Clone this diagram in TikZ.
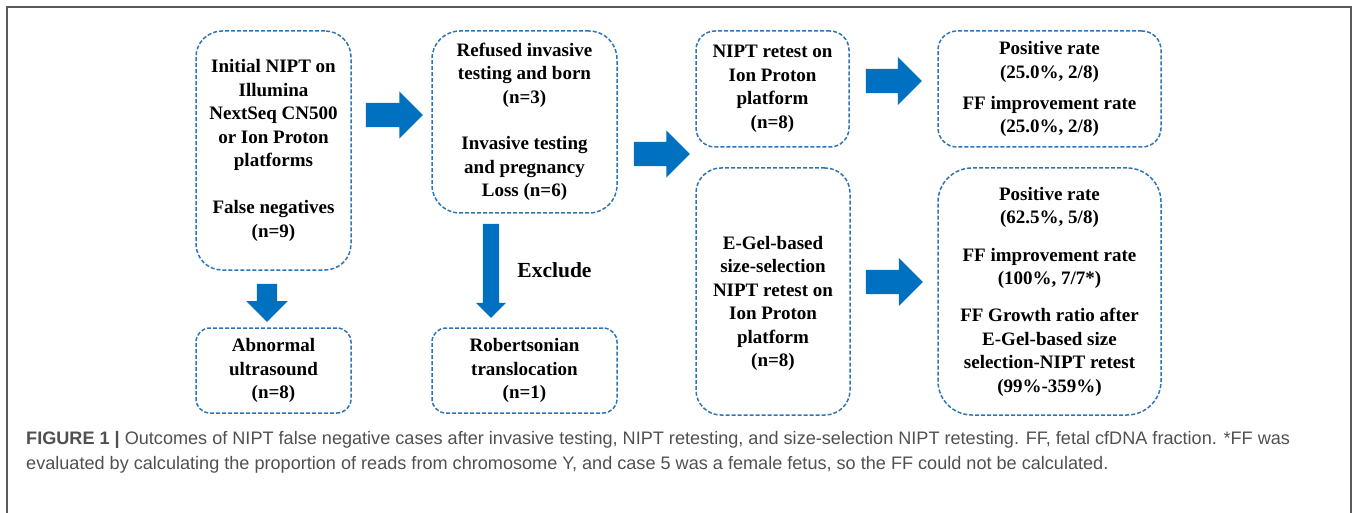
\documentclass[tikz,border=0pt]{standalone}
\usepackage{fontspec}
\setmainfont{Liberation Serif}
\newfontfamily\capfont{Liberation Sans}
\usetikzlibrary{calc,shapes.arrows}

\definecolor{boxblue}{RGB}{46,117,182}
\definecolor{arrowblue}{RGB}{0,112,192}
\definecolor{capgray}{RGB}{80,80,80}
\definecolor{framegray}{RGB}{90,90,90}

\tikzset{
  stage/.style={draw=boxblue, line width=1.5pt, dash pattern=on 4pt off 2pt,
    align=center, inner sep=0pt, font=\bfseries\fontsize{19}{23.5}\selectfont},
  blockarrow/.style={single arrow, fill=arrowblue, draw=none, inner xsep=0pt, anchor=tail},
}

\begin{document}
\begin{tikzpicture}[x=1pt, y=-1pt]
  \useasboundingbox (0,0) rectangle (1357,513);
  \draw[framegray, line width=1.5pt] (7,513) -- (7,7) -- (1351,7) -- (1351,513);

  % first column
  \node[stage, minimum width=155pt, minimum height=239pt, rounded corners=26pt] (initial) at (273.5,150.5) {
    Initial NIPT on\\Illumina\\NextSeq CN500\\or Ion Proton\\platforms\\[23.5pt]
    False negatives\\(n=9)};
  \node[stage, minimum width=155pt, minimum height=85pt, rounded corners=14pt] (abnormal) at (273.5,370.5) {
    Abnormal\\ultrasound\\(n=8)};

  % second column
  \node[stage, minimum width=185pt, minimum height=182pt, rounded corners=28pt] (refused) at (524.5,122) {
    Refused invasive\\testing and born\\(n=3)\\[23pt]
    Invasive testing\\and pregnancy\\Loss (n=6)};
  \node[stage, minimum width=185pt, minimum height=85pt, rounded corners=14pt] (robertson) at (524.5,370.5) {
    Robertsonian\\translocation\\(n=1)};
  \node[font=\bfseries\fontsize{21.5}{26}\selectfont] (exclude) at (554.5,270) {Exclude};

  % retests
  \node[stage, minimum width=153pt, minimum height=116pt, rounded corners=19pt] (ionretest) at (772.5,89) {
    NIPT retest on\\Ion Proton\\platform\\(n=8)};
  \node[stage, minimum width=154pt, minimum height=247pt, rounded corners=25pt] (egel) at (773,291.5) {
    \rule{0pt}{37pt}E-Gel-based\\size-selection\\NIPT retest on\\Ion Proton\\platform\\(n=8)};

  % outcomes
  \node[stage, minimum width=223pt, minimum height=116pt, rounded corners=19pt] (rateion) at (1049.5,89) {
    Positive rate\\(25.0\%, 2/8)\\[7.5pt]
    FF improvement rate\\(25.0\%, 2/8)};
  \node[stage, minimum width=223pt, minimum height=247pt, rounded corners=34pt] (rateegel) at (1049.5,291.5) {
    Positive rate\\(62.5\%, 5/8)\\[14pt]
    FF improvement rate\\(100\%, 7/7*)\\[13.5pt]
    FF Growth ratio after\\E-Gel-based size\\selection-NIPT retest\\(99\%-359\%)};

  % block arrows
  \node[blockarrow, inner ysep=12pt, minimum height=57pt, single arrow head extend=11.5pt] (toref) at ($(initial.east |- 0,115)+(14,0)$) {};
  \node[blockarrow, inner ysep=12pt, minimum height=56pt, single arrow head extend=11.5pt] (toretest) at ($(refused.east |- 0,154)+(16,0)$) {};
  \node[blockarrow, inner ysep=12pt, minimum height=56pt, single arrow head extend=12pt] (toion) at ($(ionretest.east |- 0,81)+(16,0)$) {};
  \node[blockarrow, inner ysep=12pt, minimum height=57pt, single arrow head extend=12pt] (toegel) at ($(egel.east |- 0,282)+(15,0)$) {};
  \node[blockarrow, rotate=-90, inner ysep=10pt, minimum height=38pt, single arrow head extend=10.5pt] (toabn) at ($(initial.south)+(-6.5,13)$) {};
  \node[blockarrow, rotate=-90, inner ysep=8pt, minimum height=94pt, single arrow head extend=7pt] (toexcl) at ($(refused.south)+(-33.5,10)$) {};

  % caption
  \node[anchor=north west, align=left, inner sep=0pt, text=capgray,
        font=\capfont\fontsize{18.1}{25}\selectfont] (caption) at (26,431) {
    \textbf{FIGURE 1 |} Outcomes of NIPT false negative cases after invasive testing, NIPT retesting, and size-selection NIPT retesting. FF, fetal cfDNA fraction. *FF was\\
    evaluated by calculating the proportion of reads from chromosome Y, and case 5 was a female fetus, so the FF could not be calculated.};
\end{tikzpicture}
\end{document}
